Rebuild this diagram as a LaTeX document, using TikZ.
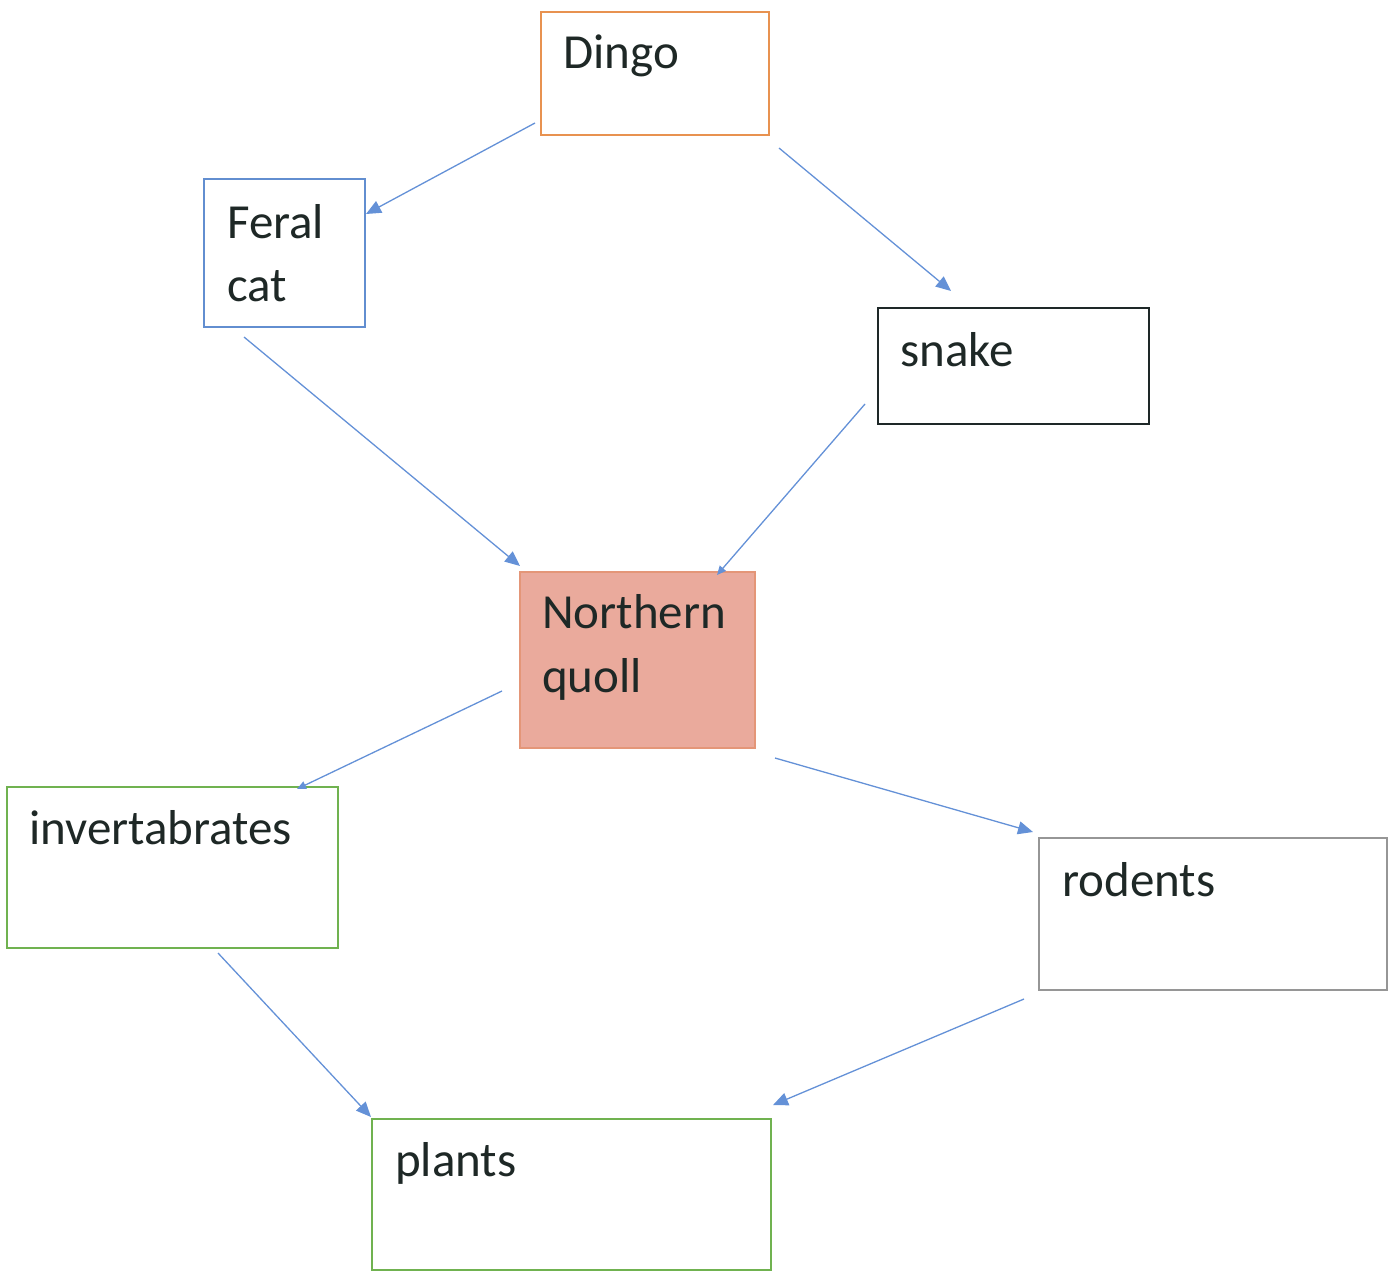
\documentclass[tikz,border=0pt]{standalone}
\usepackage{fontspec}
\setmainfont{Carlito}
\usetikzlibrary{arrows.meta}
\definecolor{txt}{RGB}{30,40,38}
\definecolor{orangeB}{RGB}{232,146,80}
\definecolor{blueB}{RGB}{98,142,208}
\definecolor{darkB}{RGB}{30,40,40}
\definecolor{quollF}{RGB}{234,170,156}
\definecolor{quollB}{RGB}{228,150,120}
\definecolor{greenB}{RGB}{112,178,80}
\definecolor{greyB}{RGB}{150,150,150}
\definecolor{arrowC}{RGB}{100,145,215}
\begin{document}
\begin{tikzpicture}[x=1pt,y=-1pt,
  box/.style={draw, line width=2pt, inner sep=0pt, outer sep=0pt, anchor=north west},
  lbl/.style={anchor=base west, inner sep=0pt, text=txt, font=\fontsize{49}{63}\selectfont},
  link/.style={draw=arrowC, line width=1.3pt, -{Triangle[length=15pt,width=13pt]}},
  smalllink/.style={draw=arrowC, line width=1.3pt, -{Triangle[length=9pt,width=8pt]}}]
\useasboundingbox (0,0) rectangle (1396,1271);

% boxes
\node[box, draw=orangeB, minimum width=228pt, minimum height=123pt] (dingo) at (541,12) {};
\node[box, draw=blueB, minimum width=161pt, minimum height=148pt] (cat) at (204,179) {};
\node[box, draw=darkB, line width=2.5pt, minimum width=271pt, minimum height=116pt] (snake) at (878,308) {};
\node[box, draw=quollB, fill=quollF, minimum width=235pt, minimum height=176pt] (quoll) at (520,572) {};
\node[box, draw=greenB, minimum width=331pt, minimum height=161pt] (invert) at (7,787) {};
\node[box, draw=greyB, minimum width=348pt, minimum height=152pt] (rodents) at (1039,838) {};
\node[box, draw=greenB, minimum width=399pt, minimum height=151pt] (plants) at (372,1119) {};

% labels
\node[lbl] (dingo-t) at (563,69) {Dingo};
\node[lbl] (cat-t1) at (227,238) {Feral};
\node[lbl] (cat-t2) at (227,301) {cat};
\node[lbl] (snake-t) at (900,366) {snake};
\node[lbl] (quoll-t1) at (542,628) {Northern};
\node[lbl] (quoll-t2) at (542,692) {quoll};
\node[lbl] (invert-t) at (29,844) {invertabrates};
\node[lbl] (rodents-t) at (1062,896) {rodents};
\node[lbl] (plants-t) at (395,1176) {plants};

% connector ends
\coordinate (dingo-l) at (535,123);
\coordinate (cat-in) at (366,214);
\coordinate (dingo-r) at (779,148);
\coordinate (snake-in) at (951,291);
\coordinate (cat-out) at (244,337);
\coordinate (quoll-inl) at (520,566);
\coordinate (snake-out) at (865,404);
\coordinate (quoll-inr) at (717,575);
\coordinate (quoll-outl) at (502,691);
\coordinate (invert-in) at (297,789);
\coordinate (quoll-outr) at (775,758);
\coordinate (rodents-in) at (1033,832);
\coordinate (invert-out) at (218,953);
\coordinate (plants-inl) at (371,1117);
\coordinate (rodents-out) at (1024,999);
\coordinate (plants-inr) at (773,1105);

% connectors
\draw[link] (dingo-l) -- (cat-in);
\draw[link] (dingo-r) -- (snake-in);
\draw[link] (cat-out) -- (quoll-inl);
\draw[smalllink] (snake-out) -- (quoll-inr);
\draw[smalllink] (quoll-outl) -- (invert-in);
\draw[link] (quoll-outr) -- (rodents-in);
\draw[link] (invert-out) -- (plants-inl);
\draw[link] (rodents-out) -- (plants-inr);
\end{tikzpicture}
\end{document}
